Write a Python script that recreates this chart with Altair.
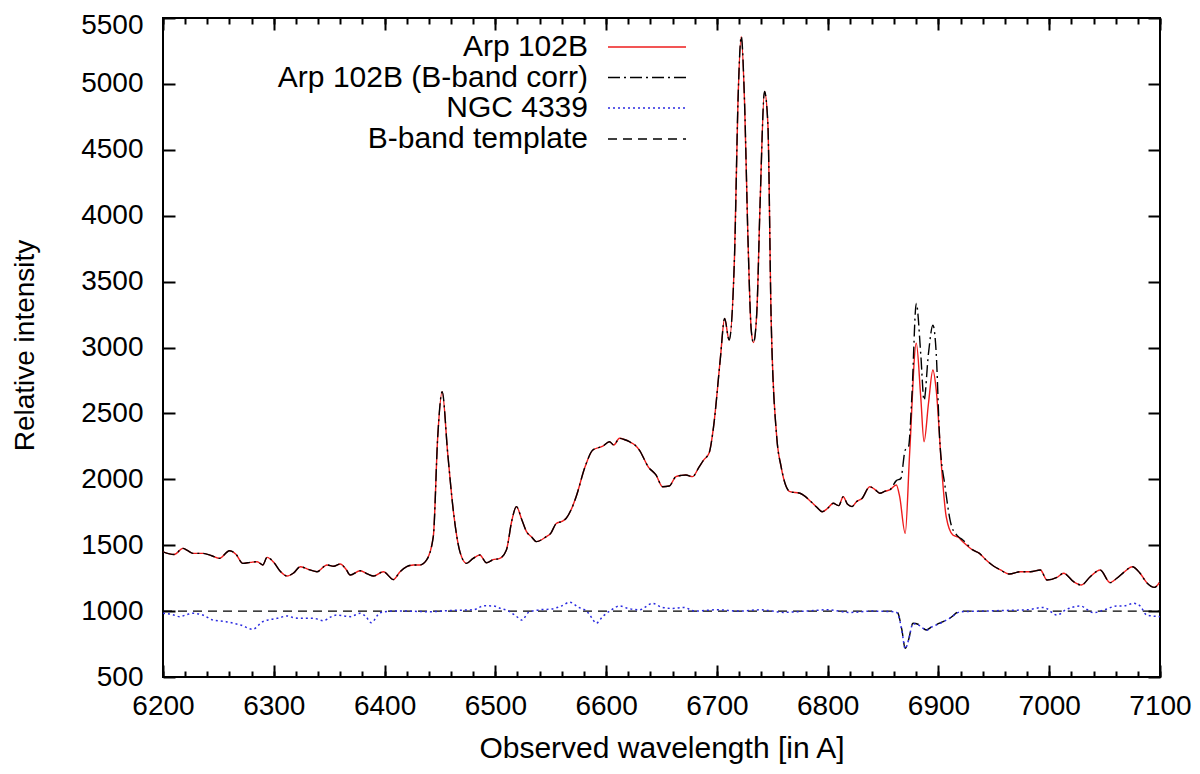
import altair as alt
import pandas as pd

FONT = "Liberation Sans"

# ---- Arp 102B spectrum (observed) ----
arp_x = [6200, 6210, 6218, 6222, 6227, 6236, 6244, 6251, 6260, 6266, 6272, 6279, 6285, 6290,
         6294, 6300, 6306, 6312, 6318, 6324, 6330, 6339, 6348, 6354, 6360, 6365, 6369, 6378,
         6385, 6390, 6399, 6408, 6414, 6420, 6426, 6432, 6438, 6444, 6448, 6452, 6457, 6462,
         6468, 6474, 6480, 6486, 6492, 6498, 6504, 6510, 6515, 6519, 6524, 6528, 6533, 6537,
         6546, 6550, 6555, 6560, 6564, 6569, 6573, 6581, 6588, 6597, 6603, 6607, 6612, 6617,
         6621, 6626, 6630, 6638, 6645, 6651, 6657, 6663, 6668, 6672, 6678, 6684, 6688, 6693,
         6697, 6703, 6707, 6711, 6716, 6719, 6722, 6725, 6728, 6731, 6733, 6736, 6739, 6743,
         6746, 6749, 6754, 6758, 6766, 6775, 6785, 6790, 6795, 6800, 6805, 6810, 6814, 6818,
         6822, 6826, 6831, 6838, 6843, 6847, 6852, 6856, 6862, 6865, 6870, 6874, 6880, 6884,
         6887, 6891, 6895, 6898, 6903, 6907, 6913, 6918, 6922, 6931, 6937, 6943, 6950, 6956,
         6964, 6974, 6983, 6992, 6998, 7007, 7013, 7022, 7029, 7037, 7046, 7055, 7061, 7068,
         7075, 7082, 7088, 7095, 7100]
arp_y = [1450, 1430, 1476, 1460, 1438, 1438, 1420, 1400, 1458, 1430, 1362, 1370, 1375, 1350,
         1408, 1370, 1300, 1266, 1290, 1337, 1320, 1299, 1350, 1340, 1357, 1320, 1274, 1306,
         1280, 1266, 1299, 1239, 1299, 1337, 1350, 1350, 1388, 1565, 2323, 2665, 2198, 1767,
         1451, 1362, 1400, 1426, 1367, 1390, 1400, 1464, 1691, 1793, 1691, 1605, 1560, 1527,
         1565, 1590, 1665, 1680, 1704, 1780, 1869, 2095, 2222, 2252, 2285, 2260, 2311, 2300,
         2285, 2260, 2222, 2095, 2033, 1944, 1949, 2020, 2030, 2033, 2020, 2095, 2146, 2200,
         2399, 2905, 3221, 3057, 3715, 4853, 5358, 4853, 3841, 3133, 3037, 3260, 4093, 4942,
         4702, 3208, 2323, 2095, 1906, 1894, 1830, 1790, 1754, 1780, 1818, 1800, 1868, 1810,
         1793, 1830, 1855, 1944, 1920, 1894, 1910, 1919, 1957, 1868, 1590, 2198, 3032, 2627,
         2285, 2575, 2829, 2678, 2071, 1716, 1577, 1560, 1527, 1464, 1438, 1388, 1340, 1312,
         1281, 1299, 1299, 1312, 1236, 1256, 1287, 1223, 1198, 1261, 1312, 1216, 1249, 1299,
         1337, 1287, 1216, 1180, 1223]

# ---- Arp 102B, B-band corrected: differs only across the B band ----
corr_seg_x = [6856, 6862, 6866, 6870, 6873, 6876, 6880, 6884, 6887, 6891, 6895, 6898, 6901,
              6906, 6912, 6918, 6922]
corr_seg_y = [1919, 1990, 2005, 2222, 2247, 2627, 3335, 2955, 2600, 2955, 3170, 2955, 2323,
              1944, 1640, 1565, 1540]

# ---- NGC 4339 ----
ngc_x = [6200, 6208, 6215, 6222, 6227, 6236, 6245, 6257, 6265, 6270, 6281, 6290, 6296, 6303,
         6312, 6318, 6324, 6336, 6345, 6350, 6357, 6369, 6378, 6383, 6388, 6396, 6408, 6420,
         6440, 6460, 6480, 6490, 6498, 6505, 6512, 6519, 6524, 6530, 6540, 6550, 6560, 6567,
         6575, 6583, 6587, 6591, 6597, 6605, 6612, 6620, 6630, 6642, 6650, 6660, 6670, 6680,
         6700, 6720, 6740, 6760, 6780, 6800, 6820, 6840, 6860, 6863, 6867, 6870, 6873, 6877,
         6883, 6889, 6894, 6901, 6910, 6920, 6940, 6960, 6980, 6995, 7007, 7015, 7028, 7040,
         7050, 7061, 7068, 7076, 7082, 7088, 7100]
ngc_y = [983, 975, 958, 975, 983, 970, 932, 920, 905, 895, 862, 920, 935, 945,
         963, 950, 945, 945, 927, 950, 970, 958, 983, 960, 912, 988, 1000, 1000,
         995, 1005, 1010, 1040, 1039, 1020, 1000, 960, 932, 990, 1010, 1015, 1040, 1067,
         1030, 995, 950, 908, 960, 1010, 1039, 1020, 1010, 1059, 1030, 1020, 1028, 1000,
         1010, 1000, 1010, 990, 1000, 1010, 990, 1000, 995, 985, 850, 715, 780, 905,
         890, 855, 880, 905, 945, 995, 1000, 1005, 1010, 1028, 970, 1010, 1039, 988,
         1010, 1039, 1040, 1059, 1040, 970, 958]

# ---- B-band template ----
tmpl_x = [6200, 6400, 6600, 6800, 6860, 6863, 6867, 6870, 6873, 6877, 6883, 6889, 6894,
          6901, 6910, 6920, 7000, 7100]
tmpl_y = [1000, 1000, 1000, 1000, 1000, 990, 857, 718, 781, 908, 895, 857, 882,
          908, 945, 1000, 1000, 1000]

x_major = list(range(6200, 7101, 100))
x_minor = list(range(6200, 7101, 20))
y_major = list(range(500, 5501, 500))

legend_labels = ["Arp 102B", "Arp 102B (B-band corr)", "NGC 4339", "B-band template"]


def frame(xs, ys):
    return pd.DataFrame({"wl": xs, "val": ys})


arp_df = frame(arp_x, arp_y)
corr_x = [v for v in arp_x if v < corr_seg_x[0]] + corr_seg_x + [v for v in arp_x if v > corr_seg_x[-1]]
corr_y = ([y for v, y in zip(arp_x, arp_y) if v < corr_seg_x[0]] + corr_seg_y
          + [y for v, y in zip(arp_x, arp_y) if v > corr_seg_x[-1]])
corr_df = frame(corr_x, corr_y)
ngc_df = frame(ngc_x, ngc_y)
tmpl_df = frame(tmpl_x, tmpl_y)

xs = alt.Scale(domain=[6200, 7100], nice=False, zero=False)
ys = alt.Scale(domain=[500, 5500], nice=False, zero=False)

RED = "#ee1c1c"
BLUE = "#2a2ae0"


def series(df, color, width, dash=None):
    kw = dict(color=color, strokeWidth=width, clip=True, interpolate="monotone")
    if dash is not None:
        kw["strokeDash"] = dash
    return alt.Chart(df).mark_line(**kw).encode(
        x=alt.X("wl:Q", scale=xs, axis=None),
        y=alt.Y("val:Q", scale=ys, axis=None),
        order="wl:Q",
    )


def tick_axis(orient, values, size):
    return alt.Axis(orient=orient, values=values, labels=False, domain=False, grid=False,
                    ticks=True, tickSize=size, tickWidth=2, tickColor="black",
                    offset=-size, title="")


def axis_layer(xaxis=None, yaxis=None):
    enc = {}
    enc["x"] = alt.X("wl:Q", scale=xs, axis=xaxis) if xaxis is not None else alt.X("wl:Q", scale=xs, axis=None)
    enc["y"] = alt.Y("val:Q", scale=ys, axis=yaxis) if yaxis is not None else alt.Y("val:Q", scale=ys, axis=None)
    return alt.Chart(tmpl_df).mark_point(opacity=0).encode(**enc)


TOP = 10          # plot-area top inside the svg (page margin adds 8)
H = 659

x_label_axis = alt.Axis(orient="bottom", values=x_major, format="d", ticks=False, tickSize=0,
                        domain=False, grid=False, labelFont=FONT, labelFontSize=28,
                        labelColor="black", labelPadding=15, labelFlush=False,
                        labelOverlap=False,
                        title="Observed wavelength [in A]", titleFont=FONT, titleFontSize=30,
                        titleFontWeight="normal", titleColor="black", titleBaseline="middle",
                        titleY=71)
y_label_axis = alt.Axis(orient="left", values=y_major[:-1], format="d", ticks=False, tickSize=0,
                        domain=False, grid=False, labelFont=FONT, labelFontSize=28,
                        labelColor="black", labelPadding=20, labelFlush=False,
                        labelOverlap=False,
                        title="Relative intensity", titleFont=FONT, titleFontSize=28,
                        titleFontWeight="normal", titleColor="black", titleAngle=270,
                        titleBaseline="middle", titleAlign="center", titleX=-138,
                        titleY=(345 - 8 - TOP))
# top label kept inside the drawing: nudged down a little
y_top_label_axis = alt.Axis(orient="left", values=y_major[-1:], format="d", ticks=False,
                            tickSize=0, domain=False, grid=False, labelFont=FONT,
                            labelFontSize=28, labelColor="black", labelPadding=20,
                            labelFlush=False, labelOverlap=False, labelOffset=7, title="")

axes = [
    axis_layer(x_label_axis, y_label_axis),
    axis_layer(tick_axis("bottom", x_major, 12), tick_axis("left", y_major, 12)),
    axis_layer(tick_axis("bottom", x_minor, 6), tick_axis("right", y_major, 12)),
    axis_layer(tick_axis("top", x_major, 12), y_top_label_axis),
    axis_layer(tick_axis("top", x_minor, 6)),
]

lines = [
    series(tmpl_df, "black", 1.4, [9, 6]),
    series(ngc_df, BLUE, 1.5, [2, 3]),
    series(arp_df, RED, 1.4),
    series(corr_df, "black", 1.4, [12, 4, 2, 4]),
]

one = pd.DataFrame({"k": [0]})
row_y = [29, 59.5, 90, 121]
styles = [(RED, None), ("black", [12, 4, 2, 4]), (BLUE, [2, 3]), ("black", [9, 6])]
legend = []
for lab, yy, (col, dash) in zip(legend_labels, row_y, styles):
    legend.append(alt.Chart(one).mark_text(text=lab, align="right", baseline="middle",
                                           font=FONT, fontSize=30, color="black").encode(
        x=alt.value(425), y=alt.value(yy)))
    kw = dict(color=col, strokeWidth=1.5)
    if dash is not None:
        kw["strokeDash"] = dash
    legend.append(alt.Chart(one).mark_rule(**kw).encode(
        x=alt.value(445), x2=alt.value(523), y=alt.value(yy)))

chart = alt.layer(*axes, *lines, *legend).resolve_axis(
    x="independent", y="independent"
).properties(
    width=997, height=H,
    autosize=alt.AutoSizeParams(type="none"),
    padding={"left": 155, "top": TOP, "right": 32, "bottom": 93},
    background="white",
).configure_view(stroke="black", strokeWidth=2)

chart.save("out.html", embed_options={"renderer": "svg", "actions": False})
